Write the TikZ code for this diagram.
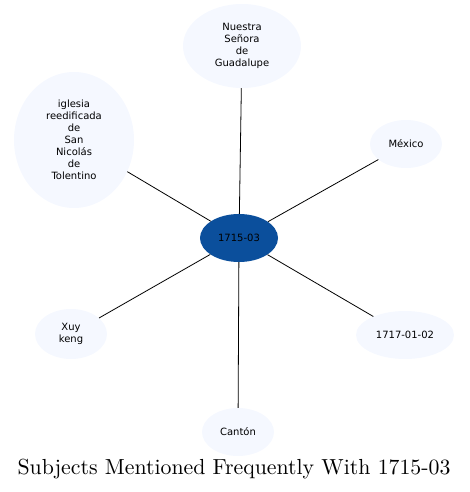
\documentclass[tikz,border=0pt]{standalone}
\usepackage{fontspec}
\newfontfamily\labelfont{DejaVu Sans}
\newfontfamily\captionfont{lmroman10-regular.otf}
\usepackage{tikz}
\usetikzlibrary{shapes.geometric}
\definecolor{hubBlue}{HTML}{0B4F9C}
\definecolor{leafBlue}{HTML}{F5F8FF}

\begin{document}
\begin{tikzpicture}[x=1pt, y=-1pt, font=\labelfont\fontsize{10}{12}\selectfont,
  leaf/.style={ellipse, fill=leafBlue, inner sep=0pt, align=center},
  hub/.style={ellipse, fill=hubBlue, inner sep=0pt},
  link/.style={draw=black, line width=0.8pt}]
\useasboundingbox (0,0) rectangle (469,492);
% ---------- subjects around the hub ----------
\node[hub, minimum width=78, minimum height=48] (hub) at (239,238) {1715-03};
\node[leaf, minimum width=118, minimum height=84] (guadalupe) at (242,46) {Nuestra\\Señora\\de\\Guadalupe};
\node[leaf, minimum width=120, minimum height=136] (iglesia) at (74,140) {iglesia\\reedificada\\de\\San\\Nicolás\\de\\Tolentino};
\node[leaf, minimum width=72, minimum height=48] (mexico) at (406,144) {México};
\node[leaf, minimum width=72, minimum height=50] (xuykeng) at (71,334) {Xuy\\keng};
\node[leaf, minimum width=98, minimum height=48] (date) at (405,335) {1717-01-02};
\node[leaf, minimum width=72, minimum height=48] (canton) at (238,432) {Cantón};
% ---------- links ----------
\foreach \n in {guadalupe,iglesia,mexico,xuykeng,date,canton}
  \draw[link] (hub) -- (\n);
% ---------- caption ----------
\node[font=\captionfont\fontsize{21.8}{26}\selectfont] (caption) at (234,469) {Subjects Mentioned Frequently With 1715-03};
\end{tikzpicture}
\end{document}
